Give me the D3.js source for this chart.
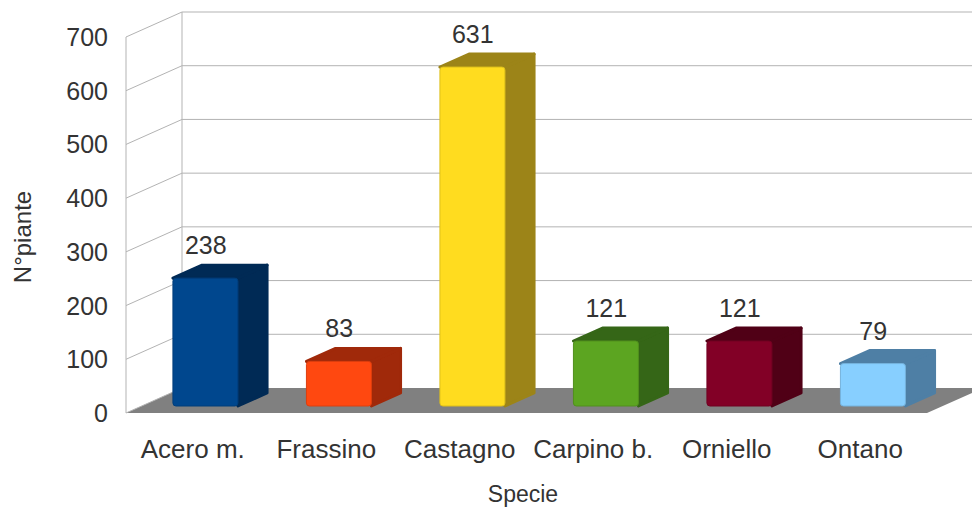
<!DOCTYPE html>
<html>
<head>
<meta charset="utf-8">
<title>N°piante per specie</title>
<script src="https://d3js.org/d3.v7.min.js"></script>
<style>
  body { margin: 0; background: #fff; }
  text { font-family: "Liberation Sans", Arial, sans-serif; fill: #333; }
</style>
</head>
<body>
<script>
var categories = ["Acero m.", "Frassino", "Castagno", "Carpino b.", "Orniello", "Ontano"];
var values = [238, 83, 631, 121, 121, 79];
var yTicks = [0, 100, 200, 300, 400, 500, 600, 700];
var frontColors = ["#00478e", "#ff4810", "#ffdc1f", "#5ca521", "#820026", "#87cfff"];
var sideColors = ["#002a55", "#a0290a", "#9c8418", "#356617", "#500016", "#4e7fa5"];

var w = 972, h = 509;
var plotLeft = 126, plotRight = 927, plotBottom = 413, plotTop = 37;
var depthX = 56, depthY = -25;   // 3d offset of the back wall
var z0 = 0.28, z1 = 0.80;       // bar depth span

var svg = d3.select("body").append("svg")
  .attr("width", w).attr("height", h);

var x = d3.scaleBand().domain(categories).range([plotLeft, plotRight]);
var y = d3.scaleLinear().domain([0, 700]).range([plotBottom, plotTop]);

// project a (x, value, depth) point to screen
function px(xv, z) { return xv + z * depthX; }
function py(v, z) { return y(v) + z * depthY; }

var grid = "#b3b3b3";

// floor
svg.append("path")
  .attr("d", "M" + plotLeft + "," + plotBottom + "L" + plotRight + "," + plotBottom +
    "L" + (plotRight + depthX) + "," + (plotBottom + depthY) + "L" + (plotLeft + depthX) + "," + (plotBottom + depthY) + "Z")
  .attr("fill", "#808080");

// back wall gridlines and side wall diagonals
yTicks.forEach(function(t) {
  if (t > 0) {
    svg.append("line")
      .attr("x1", px(plotLeft, 1)).attr("x2", w)
      .attr("y1", py(t, 1)).attr("y2", py(t, 1))
      .attr("stroke", grid).attr("stroke-width", 1);
  }
  svg.append("line")
    .attr("x1", plotLeft).attr("y1", y(t))
    .attr("x2", px(plotLeft, 1)).attr("y2", py(t, 1))
    .attr("stroke", grid).attr("stroke-width", 1);
});
svg.append("line")
  .attr("x1", px(plotLeft, 1)).attr("x2", px(plotLeft, 1))
  .attr("y1", py(700, 1)).attr("y2", py(0, 1))
  .attr("stroke", grid);
svg.append("line")
  .attr("x1", plotLeft).attr("x2", plotLeft)
  .attr("y1", y(700)).attr("y2", y(0))
  .attr("stroke", grid);

// y tick labels
svg.selectAll(".ytick").data(yTicks).enter().append("text")
  .attr("x", 108).attr("y", function(d) { return y(d); })
  .attr("dy", "0.36em")
  .attr("text-anchor", "end")
  .attr("font-size", 25)
  .text(function(d) { return d; });

// bars
var bw = x.bandwidth() * 0.487;
var bars = svg.selectAll(".bar").data(values).enter().append("g");

bars.each(function(v, i) {
  var g = d3.select(this);
  var x0 = x(categories[i]) + (x.bandwidth() - bw) / 2 - 3;
  var fl = px(x0, z0), fr = px(x0 + bw, z0);
  var br = px(x0 + bw, z1), bl = px(x0, z1);
  var ft = py(v, z0), fb = py(0, z0);
  var bt = py(v, z1), bb = py(0, z1);
  // side
  g.append("path")
    .attr("d", "M" + fr + "," + fb + "L" + fr + "," + ft + "L" + br + "," + bt + "L" + br + "," + bb + "Z")
    .attr("fill", sideColors[i]).attr("stroke", sideColors[i]).attr("stroke-linejoin", "round").attr("stroke-width", 3);
  // top
  g.append("path")
    .attr("d", "M" + fl + "," + ft + "L" + fr + "," + ft + "L" + br + "," + bt + "L" + bl + "," + bt + "Z")
    .attr("fill", sideColors[i]).attr("stroke", sideColors[i]).attr("stroke-linejoin", "round").attr("stroke-width", 3);
  // front
  g.append("rect")
    .attr("x", fl).attr("y", ft)
    .attr("width", fr - fl).attr("height", fb - ft)
    .attr("rx", 3)
    .attr("fill", frontColors[i])
    .attr("stroke", d3.color(frontColors[i]).darker(0.4)).attr("stroke-width", 1);
  // value label
  g.append("text")
    .attr("x", x(categories[i]) + x.bandwidth() / 2 + 13)
    .attr("y", ft - 33)
    .attr("dy", "0.36em")
    .attr("text-anchor", "middle")
    .attr("font-size", 25)
    .text(v);
});

// category labels
svg.selectAll(".xlab").data(categories).enter().append("text")
  .attr("x", function(d) { return x(d) + x.bandwidth() / 2; })
  .attr("y", 449)
  .attr("dy", "0.36em")
  .attr("text-anchor", "middle")
  .attr("font-size", 26)
  .text(function(d) { return d; });

// axis titles
svg.append("text")
  .attr("x", 523).attr("y", 494)
  .attr("dy", "0.36em")
  .attr("text-anchor", "middle")
  .attr("font-size", 23)
  .text("Specie");

svg.append("text")
  .attr("transform", "translate(22,237) rotate(-90)")
  .attr("dy", "0.36em")
  .attr("text-anchor", "middle")
  .attr("font-size", 24)
  .text("N°piante");
</script>
</body>
</html>
